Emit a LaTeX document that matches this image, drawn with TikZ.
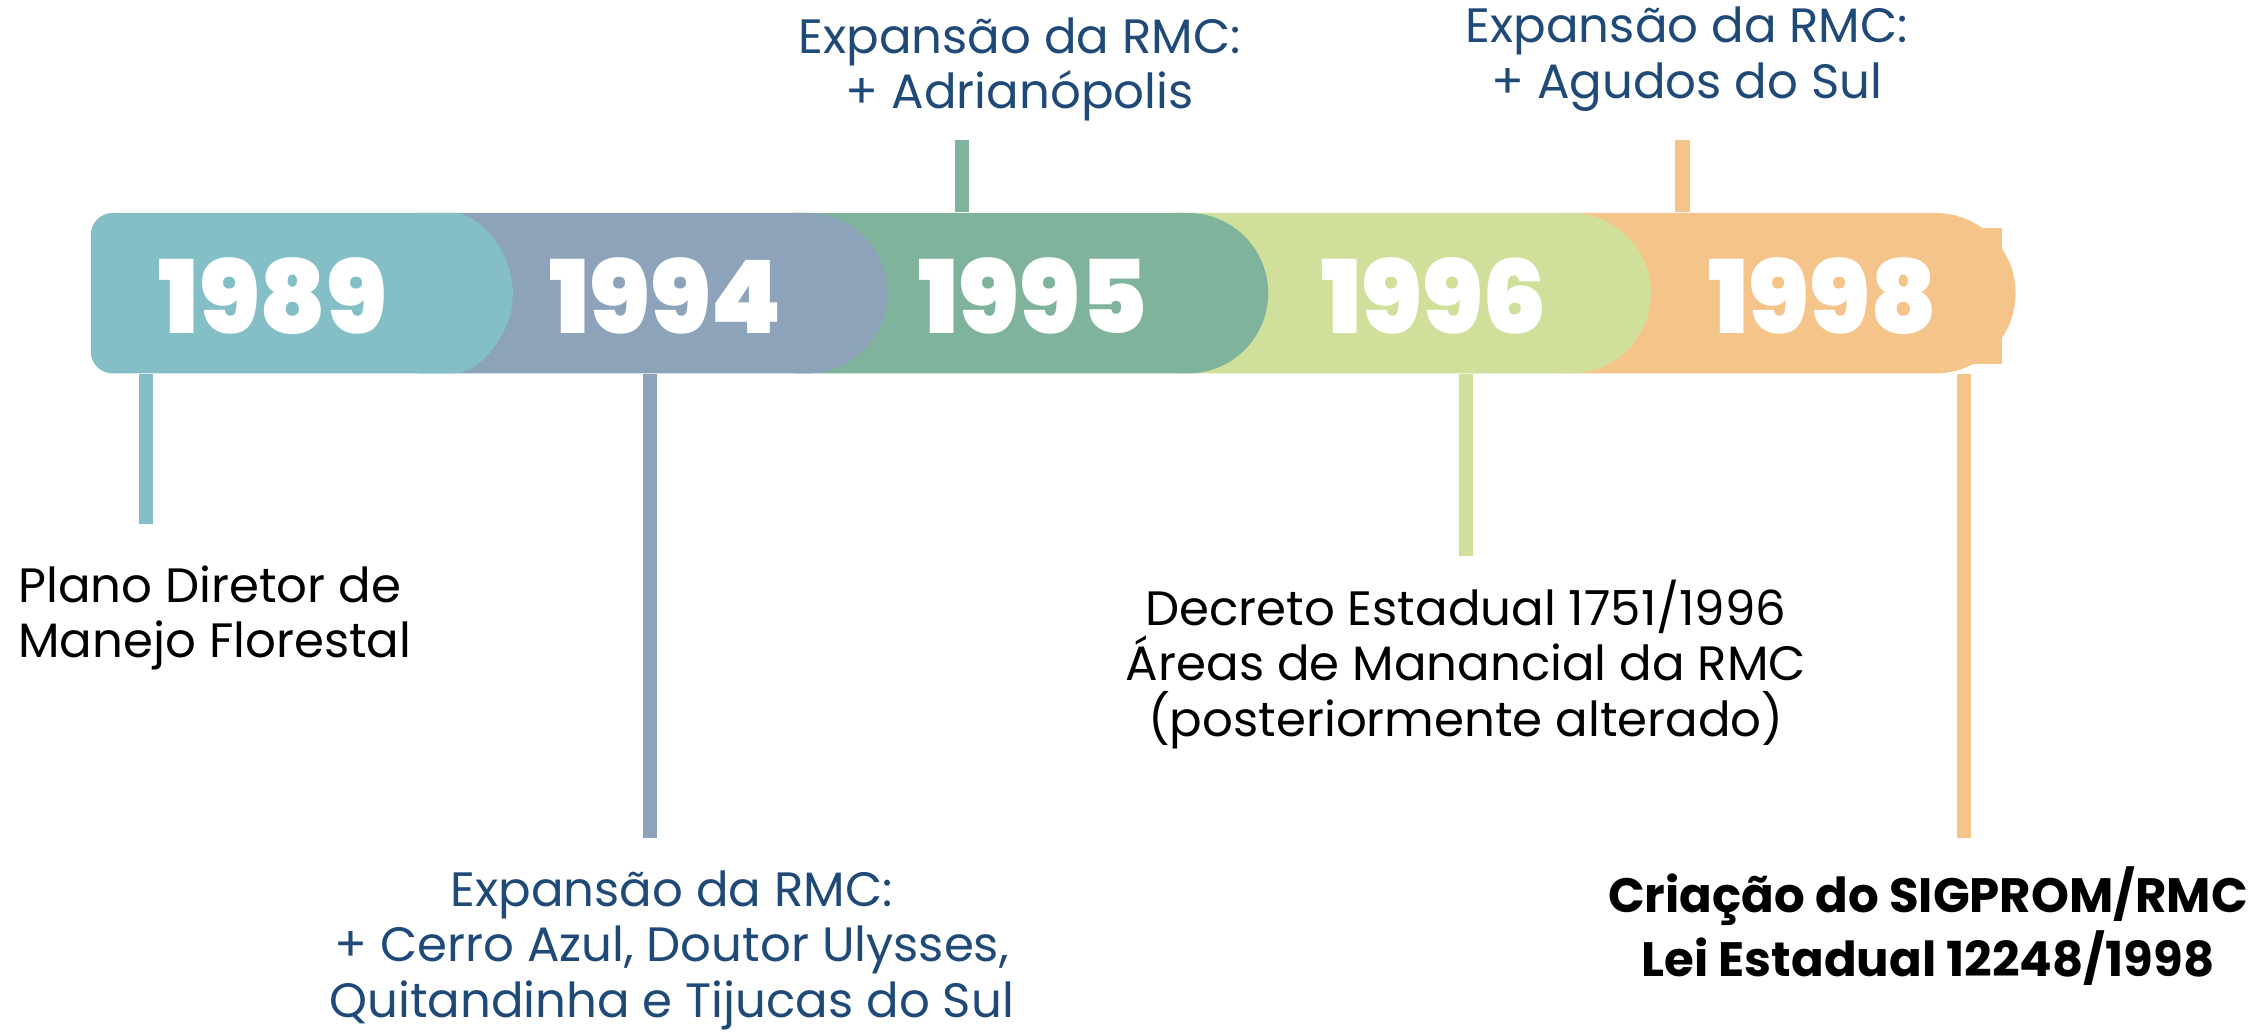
\documentclass[tikz,border=0pt]{standalone}
\usepackage{fontspec}
\setmainfont{Poppins}
\newfontfamily\yearfont{Poppins Black}
\usetikzlibrary{positioning,shapes.misc}
\definecolor{bandteal}{HTML}{84BEC6}
\definecolor{bandslate}{HTML}{8DA3BA}
\definecolor{bandgreen}{HTML}{80B39B}
\definecolor{bandlime}{HTML}{D0E09B}
\definecolor{bandorange}{HTML}{F4C48B}
\definecolor{textblue}{HTML}{1F4A78}

\begin{document}
\begin{tikzpicture}[x=0.01cm,y=-0.01cm,
    band/.style={rounded rectangle,rounded rectangle west arc=none,minimum height=1.11cm,inner sep=0pt,fill=#1},
    year/.style={text=white,inner sep=0pt,font=\yearfont\fontsize{20}{20}\selectfont},
    tick/.style={line width=2.8pt,draw=#1},
    note/.style={align=center,inner sep=0pt,font=\fontsize{9.5}{10.9}\selectfont}]
    \useasboundingbox (0,0) rectangle (1560,715);

    % Bands, back to front
    \fill[bandorange] (1330,158) rectangle (1386,252);
    \node[band=bandorange,minimum width=3.15cm] (b98) at (1238,203) {};
    \node[band=bandlime,minimum width=3.28cm] (b96) at (979,203) {};
    \node[band=bandgreen,minimum width=3.28cm] (b95) at (714,203) {};
    \node[band=bandslate,minimum width=3.25cm] (b94) at (452,203) {};
    \node[band=bandteal,minimum width=2.92cm,rounded corners=0.15cm] (b89) at (209,203) {};

    % Years
    \node[year] (y89) at (189,205) {1989};
    \node[year] (y94) at (461,205) {1994};
    \node[year] (y95) at (715,205) {1995};
    \node[year] (y96) at (993,205) {1996};
    \node[year] (y98) at (1262,205) {1998};

    % Ticks
    \coordinate (e89) at (101,363);
    \coordinate (e94) at (450,580);
    \coordinate (e95) at (666,97);
    \coordinate (e96) at (1015,385);
    \coordinate (e98a) at (1165,97);
    \coordinate (e98b) at (1360,580);
    \draw[tick=bandteal] (e89 |- b89.south) -- (e89);
    \draw[tick=bandslate] (e94 |- b94.south) -- (e94);
    \draw[tick=bandgreen] (e95 |- b95.north) -- (e95);
    \draw[tick=bandlime] (e96 |- b96.south) -- (e96);
    \draw[tick=bandorange] (e98a |- b98.north) -- (e98a);
    \draw[tick=bandorange] (e98b |- b98.south) -- (e98b);

    % Notes
    \node[note,align=left,anchor=west] (n89) at (12,428) {Plano Diretor de\\Manejo Florestal};
    \node[note,text=textblue] (n94) at (465,658) {Expansão da RMC:\\+ Cerro Azul, Doutor Ulysses,\\Quitandinha e Tijucas do Sul};
    \node[note,text=textblue] (n95) at (706,48) {Expansão da RMC:\\+ Adrianópolis};
    \node[note] (n96) at (1015,460) {Decreto Estadual 1751/1996\\Áreas de Manancial da RMC\\(posteriormente alterado)};
    \node[note,text=textblue] (n98a) at (1168,41) {Expansão da RMC:\\+ Agudos do Sul};
    \node[note,font=\bfseries\fontsize{9.5}{10.9}\selectfont] (n98b) at (1335,641) {Criação do SIGPROM/RMC\\Lei Estadual 12248/1998};
\end{tikzpicture}
\end{document}
